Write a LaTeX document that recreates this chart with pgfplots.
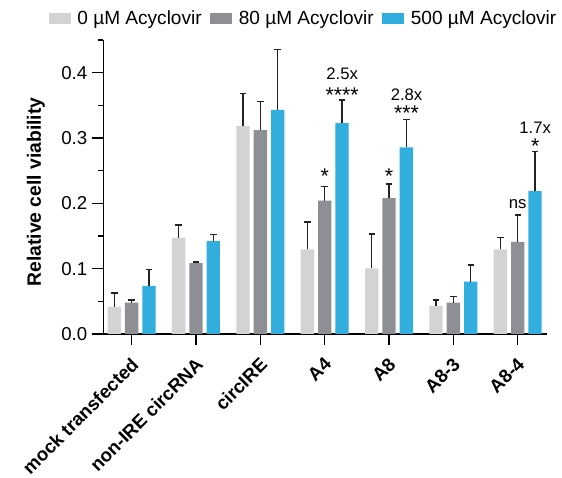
\documentclass[border=0pt]{standalone}
\usepackage{fontspec}
\setmainfont{Liberation Sans}
\usepackage{pgfplots}
\pgfplotsset{compat=1.18}
\definecolor{lgray}{RGB}{211,211,211}
\definecolor{dgray}{RGB}{142,143,148}
\definecolor{cblue}{RGB}{49,174,222}
\definecolor{errc}{RGB}{35,35,35}
\begin{document}
\begin{tikzpicture}
\path[use as bounding box] (0,0) rectangle (421.5pt,358.5pt);
\begin{axis}[
  at={(77.5pt,108pt)}, anchor=south west,
  scale only axis, width=333pt, height=220.5pt,
  clip=false,
  ybar=3pt, bar width=10pt,
  xmin=-0.44, xmax=6.46, ymin=0, ymax=0.45,
  axis x line*=bottom, axis y line*=left,
  axis line style={line width=1pt, -},
  tick align=outside,
  tick style={line width=1pt, black},
  major tick length=8.5pt, minor tick length=4pt,
  xtick={0,1,2,3,4,5,6},
  xticklabels={mock transfected, non-IRE circRNA, circIRE, A4, A8, A8-3, A8-4},
  xticklabel style={rotate=45, anchor=north east, font=\bfseries\fontsize{14}{16}\selectfont, inner sep=0.5pt, xshift=-6pt, yshift=-4.5pt},
  ytick={0,0.1,0.2,0.3,0.4},
  minor ytick={0.05,0.15,0.25,0.35,0.45},
  yticklabel style={font=\fontsize{14}{16}\selectfont, /pgf/number format/fixed, /pgf/number format/fixed zerofill, /pgf/number format/precision=1, /pgf/number format/assume math mode=true},
  ylabel={Relative cell viability},
  ylabel style={at={(axis description cs:-0.152,0.483)}, anchor=center, font=\bfseries\fontsize{14.5}{16}\selectfont},
  legend columns=3,
  legend style={at={(axis description cs:0.452,1.073)}, anchor=center, draw=none, fill=none, font=\fontsize{14.3}{16}\selectfont,
    /tikz/every odd column/.append style={column sep=3pt},
    /tikz/every even column/.append style={column sep=4.5pt}},
  legend image code/.code={\fill[#1] (0pt,-4.25pt) rectangle (16.3pt,4.25pt);},
  error bars/y dir=plus, error bars/y explicit,
  error bars/error bar style={line width=1.1pt, errc},
  error bars/error mark options={rotate=90, mark size=2.4pt, line width=1.1pt, errc},
]
\addplot[fill=lgray, draw=none] table[x=x, y=y, y error=e] {
x y e
0 0.0416 0.021
1 0.147 0.020
2 0.318 0.050
3 0.1296 0.042
4 0.1006 0.0524
5 0.043 0.009
6 0.1296 0.0184
};
\addplot[fill=dgray, draw=none] table[x=x, y=y, y error=e] {
x y e
0 0.048 0.004
1 0.109 0.0015
2 0.312 0.044
3 0.204 0.022
4 0.208 0.0216
5 0.048 0.009
6 0.141 0.041
};
\addplot[fill=cblue, draw=none] table[x=x, y=y, y error=e] {
x y e
0 0.0736 0.0254
1 0.142 0.010
2 0.343 0.0925
3 0.3226 0.0354
4 0.2855 0.0432
5 0.080 0.0257
6 0.2185 0.061
};
\legend{0 µM Acyclovir, 80 µM Acyclovir, 500 µM Acyclovir}
\begin{scope}[every node/.style={font=\fontsize{12.5}{14}\selectfont, anchor=base, inner sep=0pt}]
\node at (axis cs:3.272,0.3895) {2.5x};
\node at (axis cs:4.272,0.3567) {2.8x};
\node at (axis cs:6,0.1916) {ns};
\node at (axis cs:6.272,0.307) {1.7x};
\end{scope}
\begin{scope}[every node/.style={font=\fontsize{16}{18}\selectfont, anchor=base, inner sep=0pt}]
\node at (axis cs:3,0.2306) {*};
\node at (axis cs:3.272,0.355) {****};
\node at (axis cs:4,0.2306) {*};
\node at (axis cs:4.272,0.327) {***};
\node at (axis cs:6.272,0.2764) {*};
\end{scope}
\end{axis}
\end{tikzpicture}
\end{document}
